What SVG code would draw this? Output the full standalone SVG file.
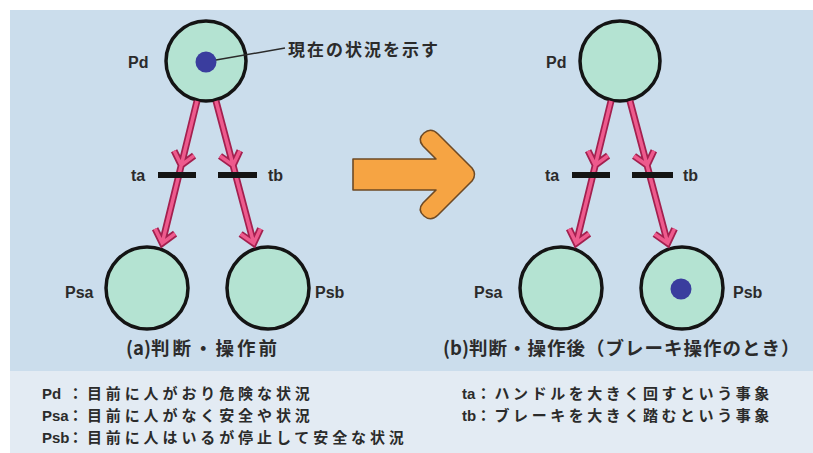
<svg xmlns="http://www.w3.org/2000/svg" width="813" height="453" viewBox="0 0 813 453">
<style>
.place{fill:#b4e3d2;stroke:#141414;stroke-width:3.5}
.token{fill:#3a3d9e}
.bar{fill:#141414}
.lbl{font-family:"Liberation Sans",Arial,sans-serif;font-weight:bold;font-size:16px;fill:#2b2b2b}
.jp{font-family:"Noto Sans CJK JP","Noto Sans",sans-serif;font-weight:bold;fill:#2b2b2b}
.cap{font-size:18.5px}
.leg{font-size:15px}
.legl{font-family:"Liberation Sans",Arial,sans-serif;font-weight:bold;font-size:15px;fill:#2b2b2b}
.out{fill:none;stroke:#a3204f;stroke-width:7;stroke-linejoin:miter;stroke-linecap:butt}
.in{fill:none;stroke:#ee5a8d;stroke-width:3.5;stroke-linejoin:miter;stroke-linecap:butt}
</style>
<rect x="0" y="0" width="813" height="453" fill="#ffffff"/>
<rect x="10" y="10" width="803" height="361" fill="#cbddec"/>
<rect x="10" y="371" width="803" height="82" fill="#e3ebf3"/>

<!-- orange arrow -->
<g id="big-arrow">
<path d="M353,159 H436 L423,146 Q417,139 424,133 Q431,127 438,134 L472,168 Q477,174.5 472,181 L438,215 Q431,222 424,216 Q417,210 423,203 L436,190 H353 Z" fill="#f6a443" stroke="#6e4a25" stroke-width="1.6" stroke-linejoin="round"/>
</g>

<!-- (a) before -->
<g id="a-Pd">
<circle class="place" cx="206" cy="61" r="40"/>
<circle class="token" cx="206" cy="62" r="10.5"/>
<text class="lbl" x="128" y="68">Pd</text>
</g>
<g id="a-note">
<line x1="216" y1="60" x2="285" y2="48" stroke="#2b2b2b" stroke-width="1.5"/>
<text class="jp" x="288" y="56" font-size="17" textLength="150" lengthAdjust="spacing">現在の状況を示す</text>
</g>
<g id="a-Psa">
<circle class="place" cx="147" cy="288" r="41"/>
<text class="lbl" x="65" y="298">Psa</text>
</g>
<g id="a-Psb">
<circle class="place" cx="268" cy="288" r="41"/>
<text class="lbl" x="315" y="298">Psb</text>
</g>

<!-- (b) after -->
<g id="b-Pd">
<circle class="place" cx="620" cy="61" r="40"/>
<text class="lbl" x="546" y="68">Pd</text>
</g>
<g id="b-Psa">
<circle class="place" cx="561" cy="288" r="41"/>
<text class="lbl" x="474" y="298">Psa</text>
</g>
<g id="b-Psb">
<circle class="place" cx="682" cy="288" r="41"/>
<circle class="token" cx="681" cy="289" r="10.5"/>
<text class="lbl" x="733" y="298">Psb</text>
</g>

<g id="connectors">
<path class="out" d="M197,101 L162.2,243.1 M175.1,233.6 L162.2,243.1 L155.1,228.8 M194.1,155.6 L181.2,165.1 L174.1,150.8"/>
<path class="in" d="M197,101 L162.2,243.1 M175.1,233.6 L162.2,243.1 L155.1,228.8 M194.1,155.6 L181.2,165.1 L174.1,150.8"/>
<path class="out" d="M216,101 L253.7,243.2 M260.5,228.7 L253.7,243.2 L240.6,234.0 M239.9,150.7 L233.1,165.2 L220.0,156.0"/>
<path class="in" d="M216,101 L253.7,243.2 M260.5,228.7 L253.7,243.2 L240.6,234.0 M239.9,150.7 L233.1,165.2 L220.0,156.0"/>
<path class="out" d="M611,101 L576.2,243.1 M589.1,233.6 L576.2,243.1 L569.1,228.8 M608.1,155.6 L595.2,165.1 L588.1,150.8"/>
<path class="in" d="M611,101 L576.2,243.1 M589.1,233.6 L576.2,243.1 L569.1,228.8 M608.1,155.6 L595.2,165.1 L588.1,150.8"/>
<path class="out" d="M630,101 L667.7,243.2 M674.5,228.7 L667.7,243.2 L654.6,234.0 M653.9,150.7 L647.1,165.2 L634.0,156.0"/>
<path class="in" d="M630,101 L667.7,243.2 M674.5,228.7 L667.7,243.2 L654.6,234.0 M653.9,150.7 L647.1,165.2 L634.0,156.0"/>
</g>

<g id="a-ta">
<rect class="bar" x="158" y="172" width="38" height="6"/>
<text class="lbl" x="131" y="181">ta</text>
</g>
<g id="a-tb">
<rect class="bar" x="218" y="172" width="39" height="6"/>
<text class="lbl" x="268" y="181">tb</text>
</g>
<g id="b-ta">
<rect class="bar" x="572" y="172" width="38" height="6"/>
<text class="lbl" x="545" y="181">ta</text>
</g>
<g id="b-tb">
<rect class="bar" x="632" y="172" width="41" height="6"/>
<text class="lbl" x="683" y="181">tb</text>
</g>

<g id="captions">
<text class="jp cap" x="126" y="355">(a)<tspan letter-spacing="3">判断・操作前</tspan></text>
<text class="jp cap" x="443" y="355">(b)<tspan letter-spacing="1">判断・操作後（ブレーキ操作のとき）</tspan></text>
</g>

<g id="legend">
<text class="legl" x="42" y="399">Pd</text>
<text class="jp leg" x="68" y="399" letter-spacing="3.9">：目前に人がおり危険な状況</text>
<text class="legl" x="42" y="421">Psa</text>
<text class="jp leg" x="68" y="421" letter-spacing="3.9">：目前に人がなく安全や状況</text>
<text class="legl" x="42" y="443">Psb</text>
<text class="jp leg" x="68" y="443" letter-spacing="3.9">：目前に人はいるが停止して安全な状況</text>
<text class="legl" x="462" y="399">ta</text>
<text class="jp leg" x="476" y="399" letter-spacing="3.55">：ハンドルを大きく回すという事象</text>
<text class="legl" x="462" y="421">tb</text>
<text class="jp leg" x="476" y="421" letter-spacing="3.55">：ブレーキを大きく踏むという事象</text>
</g>
</svg>
